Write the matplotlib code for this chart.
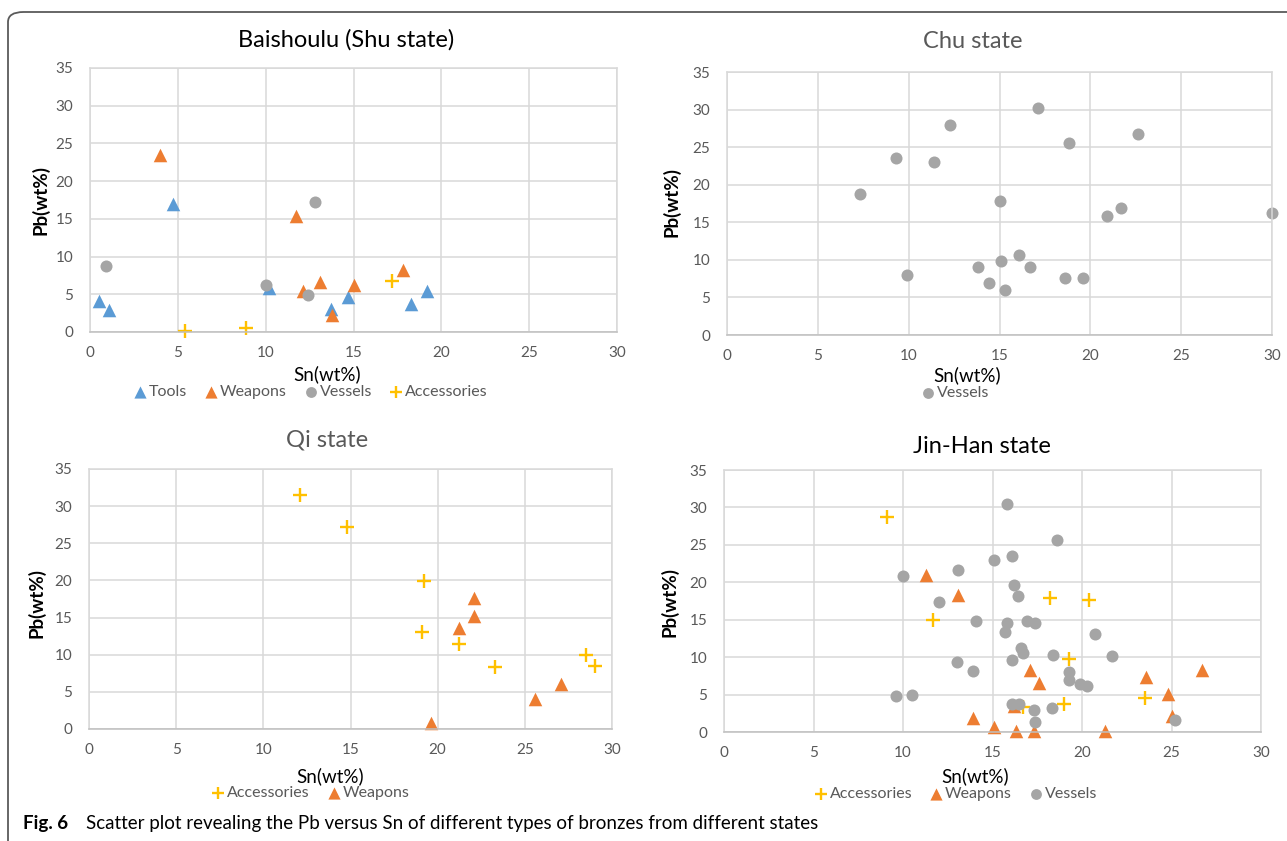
import numpy as np
import matplotlib.pyplot as plt
from matplotlib.patches import FancyBboxPatch

plt.rcParams['font.family'] = ['Lato', 'DejaVu Sans']

W, H = 1287, 841

BLUE = '#5B9BD5'
ORANGE = '#ED7D31'
GREY = '#A5A5A5'
GOLD = '#FFC000'
TXT = '#595959'

# Baishoulu (Shu state)
shu_tools_sn = [0.5, 1.1, 4.7, 10.2, 13.7, 14.7, 18.3, 19.2]
shu_tools_pb = [4.1, 2.9, 17.0, 5.8, 3.1, 4.6, 3.7, 5.5]
shu_weap_sn = [4.0, 11.7, 12.1, 13.1, 13.8, 15.0, 17.8]
shu_weap_pb = [23.5, 15.4, 5.4, 6.6, 2.3, 6.2, 8.2]
shu_vess_sn = [0.9, 10.0, 12.4, 12.8]
shu_vess_pb = [8.7, 6.2, 4.9, 17.3]
shu_acc_sn = [5.4, 8.9, 17.2]
shu_acc_pb = [0.1, 0.5, 6.8]

# Chu state
chu_vess_sn = [7.3, 9.3, 12.3, 11.4, 9.9, 15.0, 17.1, 18.8, 22.6, 20.9,
               21.7, 30.0, 16.1, 15.1, 13.8, 16.7, 14.4, 15.3, 18.6, 19.6]
chu_vess_pb = [18.7, 23.6, 28.0, 23.0, 8.0, 17.8, 30.2, 25.5, 26.8, 15.8,
               16.9, 16.2, 10.7, 9.9, 9.0, 9.0, 6.9, 6.0, 7.6, 7.6]

# Qi state
qi_acc_sn = [12.1, 14.8, 19.2, 19.1, 21.2, 23.3, 28.5, 29.0]
qi_acc_pb = [31.5, 27.2, 19.9, 13.1, 11.5, 8.3, 10.0, 8.5]
qi_weap_sn = [22.1, 22.1, 21.2, 19.6, 25.6, 27.1]
qi_weap_pb = [17.7, 15.2, 13.6, 0.8, 4.0, 6.0]

# Jin-Han state
jh_acc_sn = [9.1, 11.7, 18.2, 20.4, 19.3, 19.0, 16.7, 23.5]
jh_acc_pb = [28.7, 15.0, 17.9, 17.7, 9.7, 3.7, 3.4, 4.5]
jh_weap_sn = [11.3, 13.1, 17.1, 17.6, 13.9, 15.1, 16.3, 17.3, 21.3,
              23.6, 24.8, 25.0, 26.7, 16.2]
jh_weap_pb = [21.0, 18.3, 8.3, 6.5, 1.9, 0.7, 0.1, 0.2, 0.2,
              7.4, 5.1, 2.1, 8.3, 3.5]
jh_vess_sn = [15.8, 18.6, 15.1, 16.1, 10.0, 13.1, 16.2, 16.4, 12.0, 14.1,
              15.8, 16.9, 17.4, 15.7, 20.7, 16.6, 16.7, 16.1, 18.4, 21.7,
              13.0, 13.9, 19.3, 19.3, 19.9, 20.3, 9.6, 10.5, 16.1, 16.5,
              17.3, 17.4, 18.3, 25.2]
jh_vess_pb = [30.5, 25.6, 23.0, 23.5, 20.8, 21.7, 19.6, 18.2, 17.3, 14.8,
              14.6, 14.8, 14.6, 13.3, 13.1, 11.2, 10.5, 9.6, 10.3, 10.1,
              9.4, 8.2, 8.0, 7.0, 6.4, 6.2, 4.8, 5.0, 3.8, 3.8,
              2.9, 1.3, 3.2, 1.6]

fig = plt.figure(figsize=(W / 100, H / 100), dpi=100)


def fxy(x, y):
    return x / W, 1 - y / H


def make_axes(left, top, right, bottom):
    ax = fig.add_axes([left / W, 1 - bottom / H, (right - left) / W, (bottom - top) / H])
    ax.set_xlim(0, 30)
    ax.set_ylim(0, 35)
    ax.set_xticks(range(0, 31, 5))
    ax.set_yticks(range(0, 36, 5))
    ax.grid(True, color='#D9D9D9', linewidth=1.1)
    ax.set_axisbelow(True)
    for s in ax.spines.values():
        s.set_color('#D9D9D9')
        s.set_linewidth(1.1)
    ax.spines['bottom'].set_color('#BFBFBF')
    ax.tick_params(length=0, labelsize=11, labelcolor=TXT)
    ax.tick_params(axis='y', pad=12)
    ax.tick_params(axis='x', pad=10)
    return ax


def tri(ax, x, y, c, label):
    return ax.scatter(x, y, marker='^', s=95, color=c, linewidths=0, label=label, clip_on=False)


def dot(ax, x, y, label):
    return ax.scatter(x, y, marker='o', s=75, color=GREY, linewidths=0, label=label, clip_on=False)


def plus(ax, x, y, label):
    return ax.scatter(x, y, marker='+', s=95, color=GOLD, linewidths=1.7, label=label, clip_on=False)


def labels(title, tcol, title_xy, xl_xy, yl_xy):
    fig.text(*fxy(*title_xy), title, fontsize=17, color=tcol, ha='center', va='center')
    fig.text(*fxy(*xl_xy), 'Sn(wt%)', fontsize=13.5, color='black', ha='center', va='center')
    fig.text(*fxy(*yl_xy), 'Pb(wt%)', fontsize=13.5, fontweight='bold', color='black',
             ha='center', va='center', rotation=90)


def legend(ax, handles, center):
    ax.legend(handles=handles, loc='center', bbox_to_anchor=fxy(*center),
              bbox_transform=fig.transFigure, ncol=len(handles), frameon=False,
              fontsize=11.5, labelcolor=TXT, handletextpad=0.05, columnspacing=1.0,
              handlelength=1.0, borderpad=0, borderaxespad=0, scatterpoints=1,
              markerscale=0.9)


# Baishoulu
ax1 = make_axes(90, 68, 617, 332)
h1 = [tri(ax1, shu_tools_sn, shu_tools_pb, BLUE, 'Tools'),
      tri(ax1, shu_weap_sn, shu_weap_pb, ORANGE, 'Weapons'),
      dot(ax1, shu_vess_sn, shu_vess_pb, 'Vessels'),
      plus(ax1, shu_acc_sn, shu_acc_pb, 'Accessories')]
labels('Baishoulu (Shu state)', 'black', (346, 40), (327, 374), (40, 200))
legend(ax1, h1, (310, 392))

# Chu
ax2 = make_axes(727, 72, 1272, 335)
h2 = [dot(ax2, chu_vess_sn, chu_vess_pb, 'Vessels')]
labels('Chu state', TXT, (973, 42), (967, 375), (671, 202))
legend(ax2, h2, (955, 393))

# Qi
ax3 = make_axes(89, 469, 612, 729)
h3 = [plus(ax3, qi_acc_sn, qi_acc_pb, 'Accessories'),
      tri(ax3, qi_weap_sn, qi_weap_pb, ORANGE, 'Weapons')]
labels('Qi state', TXT, (327, 440), (330, 776), (36, 603))
legend(ax3, h3, (310, 793))

# Jin-Han
ax4 = make_axes(724, 470, 1261, 732)
h4 = [plus(ax4, jh_acc_sn, jh_acc_pb, 'Accessories'),
      tri(ax4, jh_weap_sn, jh_weap_pb, ORANGE, 'Weapons'),
      dot(ax4, jh_vess_sn, jh_vess_pb, 'Vessels')]
labels('Jin-Han state', 'black', (982, 446), (975, 776), (669, 602))
legend(ax4, h4, (955, 794))

# page frame and caption
frame = FancyBboxPatch(fxy(8, 900), (1400 - 8) / W, (900 - 12) / H,
                       boxstyle='round,pad=0,rounding_size=0.012',
                       transform=fig.transFigure, fill=False,
                       edgecolor='#5a5a5a', linewidth=1.3)
fig.patches.append(frame)

fig.text(*fxy(23, 823), 'Fig. 6', fontsize=13.5, fontweight='bold', ha='left', va='center')
fig.text(*fxy(86, 823), 'Scatter plot revealing the Pb versus Sn of different types of bronzes from different states',
         fontsize=13.5, ha='left', va='center')

fig.savefig('out.png', dpi=100)
